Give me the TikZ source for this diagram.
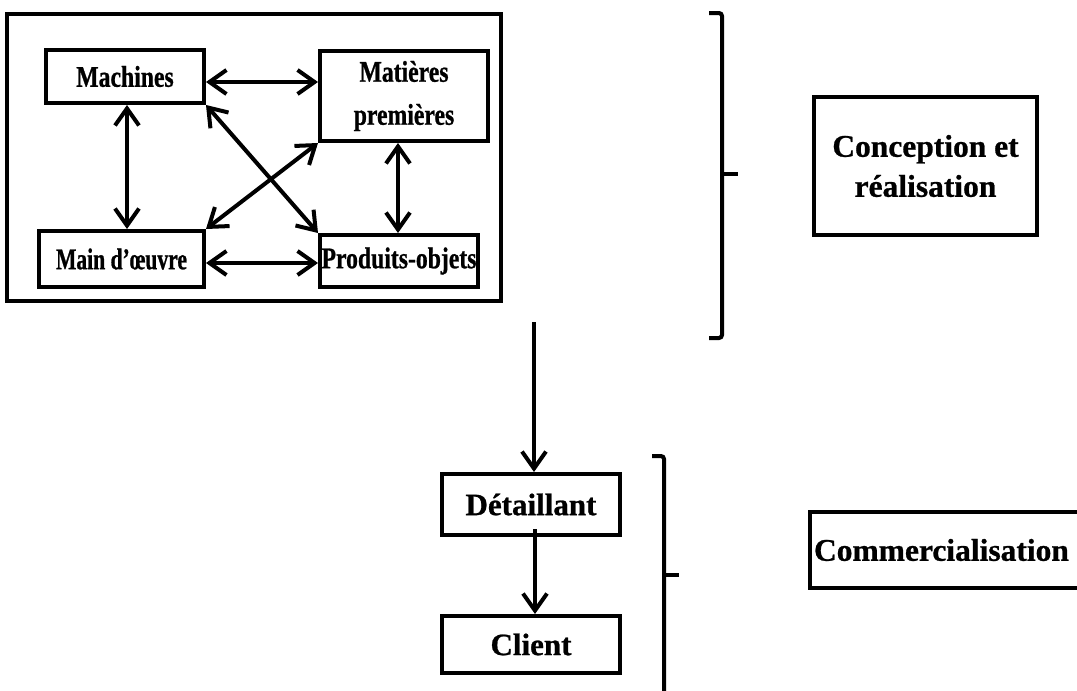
\documentclass[tikz,border=0pt]{standalone}
\usepackage{fontspec}
\setmainfont{Liberation Serif}[BoldFeatures={FakeBold=0.8}]
\newfontfamily\narrowserif{Liberation Serif}[FakeStretch=0.79,BoldFeatures={FakeBold=0.8}]
\newfontfamily\narrowerserif{Liberation Serif}[FakeStretch=0.72,BoldFeatures={FakeBold=0.8}]
\usetikzlibrary{arrows.meta,calc}
\begin{document}
\begin{tikzpicture}[x=1pt,y=-1pt,
  box/.style={draw, line width=4pt, inner sep=0pt, align=center},
  gridtext/.style={font=\narrowserif\bfseries\fontsize{30}{43}\selectfont},
  lowtext/.style={font=\bfseries\fontsize{31}{40}\selectfont},
  sidetext/.style={font=\bfseries\fontsize{31.5}{40}\selectfont},
  barb/.tip={Straight Barb[length=17pt,width=24pt,line width=4pt]},
  link/.style={line width=4pt, barb-barb},
  flow/.style={line width=4pt, -barb},
  brace/.style={line width=4pt, rounded corners=3pt}]
\useasboundingbox (0,0) rectangle (1077,691);

% production unit and its four components
\node[box, line width=4.5pt, minimum width=494pt, minimum height=287pt] (production) at (254,157.5) {};
\node[box, gridtext, minimum width=158pt, minimum height=53pt] (machines) at (125,76.5) {\raisebox{-3pt}{Machines}};
\node[box, gridtext, minimum width=168pt, minimum height=90pt] (matieres) at (404,96) {Matières\\premières};
\node[box, gridtext, font=\narrowerserif\bfseries\fontsize{30}{40}\selectfont, minimum width=165pt, minimum height=56pt] (maindoeuvre) at (121.5,259) {\raisebox{-2pt}{Main d’œuvre}};
\node[box, gridtext, minimum width=158pt, minimum height=52pt] (produits) at (399,261) {Produits-objets};

% distribution chain
\node[box, lowtext, minimum width=178pt, minimum height=61pt] (detaillant) at (531,504.5) {Détaillant};
\node[box, lowtext, minimum width=178pt, minimum height=57pt] (client) at (531,644.5) {Client};

% phase labels
\node[box, sidetext, minimum width=223pt, minimum height=138pt] (conception) at (925.5,166) {Conception et\\réalisation};
\node[box, sidetext, anchor=west, minimum height=76pt, text width=283pt, inner xsep=4pt, align=left] (commerce) at (808,550) {\raisebox{-4pt}{Commercialisation}};

% interactions between components
\draw[link] ($(machines.east)+(0,5.5)$) -- ($(matieres.west)+(0,-14)$);
\draw[link] ($(machines.south)+(2,0)$) -- ($(maindoeuvre.north)+(5.5,0)$);
\draw[link] ($(matieres.south)+(-6,0)$) -- ($(produits.north)+(-1,0)$);
\draw[link] ($(maindoeuvre.east)+(0,4)$) -- ($(produits.west)+(0,2)$);
\draw[link] (machines.south east) -- (produits.north west);
\draw[link] (matieres.south west) -- (maindoeuvre.north east);

% flow towards the customer
\coordinate (flowstart) at (534,322);
\draw[flow] (flowstart) -- (flowstart |- detaillant.north);
\draw[flow] ($(detaillant.south)+(4,-8)$) -- ($(client.north)+(4,0)$);

% brackets grouping the phases
\draw[brace] (709,13) -- (722,13) -- (722,338) -- (709,338);
\draw[brace] (722,174) -- (738,174);
\draw[brace] (652,456) -- (664,456) -- (664,700);
\draw[brace] (664,575) -- (679,575);
\end{tikzpicture}
\end{document}
